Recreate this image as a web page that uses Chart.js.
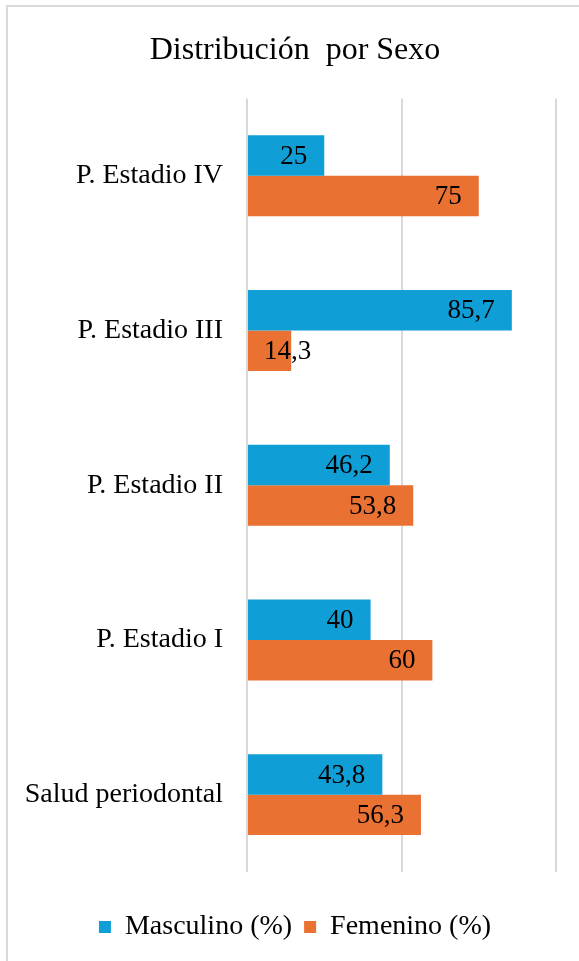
<!DOCTYPE html>
<html>
<head>
<meta charset="utf-8">
<script src="https://cdn.jsdelivr.net/npm/chart.js@4/dist/chart.umd.min.js"></script>
<style>
  html, body { margin: 0; padding: 0; background: #fff; overflow: hidden; }
  #frame { position: absolute; left: 6px; top: 5px; width: 700px; height: 1100px; border: 2px solid #d9d9d9; }
  #chart { position: absolute; left: 0; top: 0; }
</style>
</head>
<body>
<canvas id="chart" width="590" height="961"></canvas>
<div id="frame"></div>
<script>
const categories = ['P. Estadio IV', 'P. Estadio III', 'P. Estadio II', 'P. Estadio I', 'Salud periodontal'];
const masculino = [25, 85.7, 46.2, 40, 43.8];
const femenino = [75, 14.3, 53.8, 60, 56.3];
const xTicks = [0, 50, 100];

const serif = '"Liberation Serif", "Times New Roman", serif';

// value labels, "inside end" like Excel; spill right when the bar is too short
const barLabels = {
  id: 'barLabels',
  afterDatasetsDraw(chart) {
    const ctx = chart.ctx;
    ctx.save();
    ctx.font = '27px ' + serif;
    ctx.fillStyle = '#000';
    ctx.textAlign = 'right';
    ctx.textBaseline = 'middle';
    chart.data.datasets.forEach((ds, i) => {
      chart.getDatasetMeta(i).data.forEach((bar, j) => {
        const txt = String(ds.data[j]).replace('.', ',');
        const w = ctx.measureText(txt).width;
        const x = Math.max(bar.x - 17, bar.base + 16 + w);
        ctx.fillText(txt, x, bar.y + 1);
      });
    });
    ctx.restore();
  }
};

const ctx = document.querySelector('#chart').getContext('2d');
const chart = new Chart(ctx, {
  type: 'bar',
  data: {
    labels: categories,
    datasets: [{
      label: 'Masculino (%)',
      data: masculino,
      backgroundColor: '#0F9ED5',
      categoryPercentage: 0.523,
      barPercentage: 1
    }, {
      label: 'Femenino (%)',
      data: femenino,
      backgroundColor: '#E97132',
      categoryPercentage: 0.523,
      barPercentage: 1
    }]
  },
  options: {
    indexAxis: 'y',
    responsive: false,
    animation: false,
    devicePixelRatio: 1,
    layout: { padding: { left: 0, right: 0, top: 0, bottom: 10 } },
    plugins: {
      title: {
        display: true,
        text: 'Distribución  por Sexo',
        color: '#000',
        font: { family: serif, size: 32, weight: 'normal' },
        padding: { top: 31, bottom: 29 }
      },
      legend: {
        position: 'bottom',
        labels: {
          color: '#000',
          font: { family: serif, size: 28 },
          boxWidth: 12,
          boxHeight: 12,
          padding: 12
        }
      },
      tooltip: { enabled: false }
    },
    scales: {
      x: {
        min: 0,
        max: 111,
        afterBuildTicks: s => { s.ticks = xTicks.map(v => ({ value: v })); },
        afterFit: s => { s.height = 29; },
        ticks: { display: false },
        grid: { color: '#d9d9d9', lineWidth: 2, drawTicks: false },
        border: { display: false }
      },
      y: {
        afterFit: s => { s.width = 247; },
        ticks: { color: '#000', font: { family: serif, size: 28 }, padding: 24 },
        grid: { display: false, drawTicks: false },
        border: { display: false }
      }
    }
  },
  plugins: [barLabels]
});
</script>
</body>
</html>
